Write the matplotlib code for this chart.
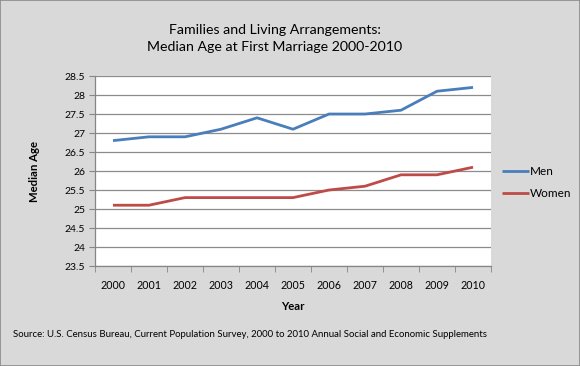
import matplotlib.pyplot as plt
from matplotlib.patches import Rectangle

years = ['2000', '2001', '2002', '2003', '2004', '2005', '2006', '2007', '2008', '2009', '2010']
men = [26.8, 26.9, 26.9, 27.1, 27.4, 27.1, 27.5, 27.5, 27.6, 28.1, 28.2]
women = [25.1, 25.1, 25.3, 25.3, 25.3, 25.3, 25.5, 25.6, 25.9, 25.9, 26.1]
y_ticks = [23.5, 24, 24.5, 25, 25.5, 26, 26.5, 27, 27.5, 28, 28.5]

plt.rcParams['font.family'] = ['Lato', 'DejaVu Sans']

bg = '#d9d9d9'
fig = plt.figure(figsize=(5.8, 3.66), dpi=100, facecolor=bg)
ax = fig.add_axes([0.1638, 0.2732, 0.6828, 0.5191])
ax.set_facecolor('white')

x = list(range(len(years)))
ax.plot(x, men, color='#4a7ebb', lw=2.0, label='Men', solid_capstyle='butt')
ax.plot(x, women, color='#be4b48', lw=2.0, label='Women', solid_capstyle='butt')

ax.set_xlim(-0.5, len(years) - 0.5)
ax.set_ylim(23.5, 28.5)
ax.set_yticks(y_ticks)
ax.set_yticklabels(['%g' % v for v in y_ticks], fontsize=7.5)
ax.set_xticks(x)
ax.set_xticklabels(years, fontsize=7.7)
ax.set_xticks([i - 0.5 for i in range(len(years) + 1)], minor=True)
ax.tick_params(axis='x', which='major', length=0, pad=10)
ax.tick_params(axis='x', which='minor', length=4, color='#868686')
ax.tick_params(axis='y', length=4, color='#868686', pad=3)
ax.grid(axis='y', color='#8c8c8c', lw=0.9)
ax.set_axisbelow(True)
for s in ['top', 'right']:
    ax.spines[s].set_visible(False)
for s in ['left', 'bottom']:
    ax.spines[s].set_color('#868686')
    ax.spines[s].set_linewidth(0.9)

ax.set_xlabel('Year', fontsize=8.2, fontweight='bold', labelpad=7)
ax.set_ylabel('Median Age', fontsize=8.2, fontweight='bold', labelpad=18)

fig.suptitle('Families and Living Arrangements:\nMedian Age at First Marriage 2000-2010',
             x=0.474, y=0.935, fontsize=10.2, linespacing=1.55)

ax.legend(loc='center left', bbox_to_anchor=(1.0, 0.44), frameon=False,
          fontsize=8.5, handlelength=2.3, handletextpad=0.1, labelspacing=0.9)

fig.text(0.022, 0.08, 'Source: U.S. Census Bureau, Current Population Survey, 2000 to 2010 '
         'Annual Social and Economic Supplements', fontsize=6.9)

fig.patches.append(Rectangle((0, 0), 1, 1, transform=fig.transFigure, fill=False,
                             edgecolor='#8a8a8a', lw=1.2))

fig.savefig('out.png', dpi=100, facecolor=bg)
